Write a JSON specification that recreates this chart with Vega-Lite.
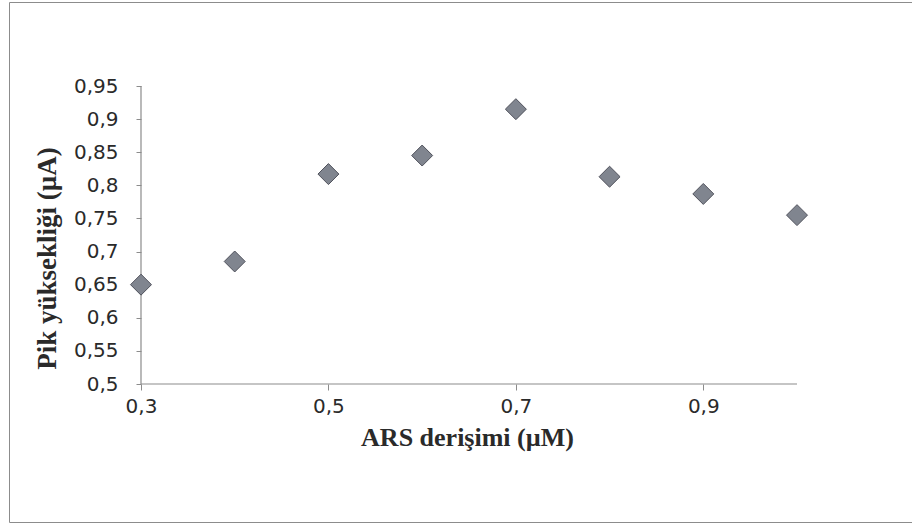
{
  "$schema": "https://vega.github.io/schema/vega-lite/v6.json",
  "width": 915,
  "height": 520,
  "autosize": {"type": "none"},
  "padding": {"left": 9, "top": 2, "right": 0, "bottom": 5},
  "background": "white",
  "config": {"view": {"stroke": "#8c8c8c", "strokeWidth": 1}},
  "layer": [
    {
      "data": {"values": [{"ars": 0.3, "ars_end": 1.0, "pik": 0.5}]},
      "mark": {"type": "rule", "color": "#8c8c8c", "strokeWidth": 1.2},
      "encoding": {
        "x": {"field": "ars", "type": "quantitative", "title": "ARS derişimi (µM)"},
        "x2": {"field": "ars_end"},
        "y": {"field": "pik", "type": "quantitative", "title": "Pik yüksekliği (µA)"}
      }
    },
    {
      "data": {"values": [{"ars": 0.3, "pik": 0.5, "pik_end": 0.95}]},
      "mark": {"type": "rule", "color": "#8c8c8c", "strokeWidth": 1.2},
      "encoding": {
        "x": {"field": "ars", "type": "quantitative", "title": "ARS derişimi (µM)"},
        "y": {"field": "pik", "type": "quantitative", "title": "Pik yüksekliği (µA)"},
        "y2": {"field": "pik_end"}
      }
    },
    {
      "data": {"values": [
        {"ars": 0.3, "pik": 0.65},
        {"ars": 0.4, "pik": 0.685},
        {"ars": 0.5, "pik": 0.817},
        {"ars": 0.6, "pik": 0.845},
        {"ars": 0.7, "pik": 0.915},
        {"ars": 0.8, "pik": 0.813},
        {"ars": 0.9, "pik": 0.787},
        {"ars": 1.0, "pik": 0.755}
      ]},
      "mark": {"type": "point", "shape": "diamond", "filled": true, "size": 440, "fill": "#80858f", "stroke": "#50525c", "strokeWidth": 1, "opacity": 1},
      "encoding": {
        "x": {
          "field": "ars", "type": "quantitative", "title": "ARS derişimi (µM)",
          "scale": {"domain": [0.15915, 1.13551], "nice": false, "zero": false},
          "axis": {
            "values": [0.3, 0.5, 0.7, 0.9],
            "offset": -138,
            "domain": false,
            "grid": false,
            "tickSize": 6,
            "tickColor": "#8c8c8c",
            "labelExpr": "replace(format(datum.value, '.1f'), '.', ',')",
            "labelFont": "DejaVu Sans",
            "labelFontSize": 20,
            "labelColor": "#2a2a2a",
            "labelPadding": 6,
            "titleFont": "Liberation Serif",
            "titleFontSize": 26,
            "titleFontWeight": "bold",
            "titleColor": "#2a2a2a",
            "titlePadding": 8,
            "titleX": 458,
            "titleAnchor": null
          }
        },
        "y": {
          "field": "pik", "type": "quantitative", "title": "Pik yüksekliği (µA)",
          "scale": {"domain": [0.29161, 1.07685], "nice": false, "zero": false},
          "axis": {
            "values": [0.5, 0.55, 0.6, 0.65, 0.7, 0.75, 0.8, 0.85, 0.9, 0.95],
            "offset": -132,
            "domain": false,
            "grid": false,
            "tickSize": 5,
            "tickColor": "#8c8c8c",
            "labelExpr": "replace(format(datum.value, '.2~f'), '.', ',')",
            "labelFont": "DejaVu Sans",
            "labelFontSize": 20,
            "labelColor": "#2a2a2a",
            "labelPadding": 18,
            "titleFont": "Liberation Serif",
            "titleFontSize": 27,
            "titleFontWeight": "bold",
            "titleColor": "#2a2a2a",
            "titleX": -94,
            "titleY": 256,
            "titleAngle": -90,
            "titleAlign": "center",
            "titleBaseline": "middle"
          }
        }
      }
    }
  ]
}
